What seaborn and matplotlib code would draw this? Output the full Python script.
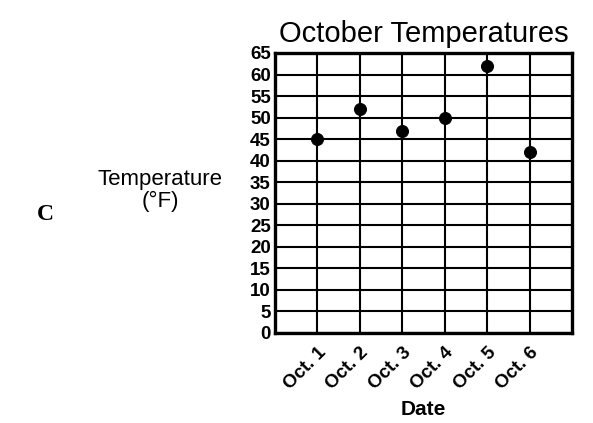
import matplotlib
matplotlib.use("Agg")
import matplotlib.pyplot as plt
import seaborn as sns

# Chart data
dates = ["Oct. 1", "Oct. 2", "Oct. 3", "Oct. 4", "Oct. 5", "Oct. 6"]
temps = [45, 52, 47, 50, 62, 42]
y_ticks = list(range(0, 70, 5))

sns.set_theme()
sns.set_style("white")
plt.rcParams['font.family'] = ['Liberation Sans', 'DejaVu Sans']
plt.rcParams['text.color'] = 'black'
plt.rcParams['xtick.color'] = 'black'
plt.rcParams['ytick.color'] = 'black'
plt.rcParams['axes.labelcolor'] = 'black'

fig = plt.figure(figsize=(5.93, 4.23), dpi=100)
ax = fig.add_axes([0.4637, 0.2128, 0.5009, 0.662])

sns.scatterplot(x=dates, y=temps, ax=ax, color="black", s=75, edgecolor="black", zorder=5)

ax.set_xlim(-1, len(dates))
ax.set_ylim(0, 65)
ax.set_yticks(y_ticks)
ax.set_yticklabels([str(v) for v in y_ticks], fontsize=13.5, fontweight="bold")
ax.set_xticks(range(len(dates)))
ax.set_xticklabels(dates, rotation=45, ha="right", rotation_mode="anchor",
                   fontsize=13.5, fontweight="bold")
ax.tick_params(axis="both", length=0, pad=3)
ax.tick_params(axis="x", pad=8)

# Grid lines
ax.grid(True, color="black", linewidth=1.5)
ax.set_axisbelow(True)
for sp in ax.spines.values():
    sp.set_color("black")
    sp.set_linewidth(2.4)

ax.set_title("October Temperatures", fontsize=21, pad=8)
ax.set_xlabel("Date", fontsize=15, fontweight="bold", labelpad=5)
ax.set_ylabel("")

fig.text(0.27, 0.55, "Temperature\n(°F)", ha="center", va="center",
         fontsize=16, linespacing=1.05)
fig.text(0.077, 0.493, "C", ha="center", va="center", fontsize=17,
         fontweight="bold", family="Liberation Serif")

fig.savefig("out.png", dpi=100)
